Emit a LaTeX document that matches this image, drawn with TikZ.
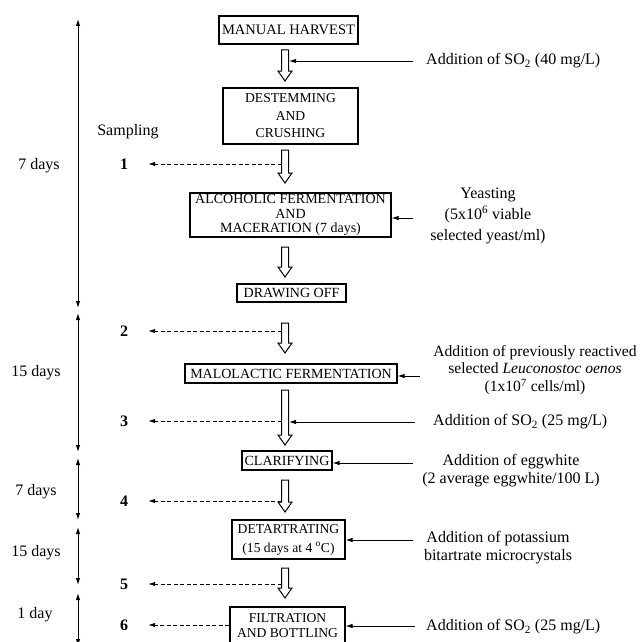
\documentclass[tikz,border=0pt]{standalone}
\usepackage{fontspec}
\setmainfont{Liberation Serif}
\usetikzlibrary{arrows.meta}
\newcommand{\hollowarrow}[3]{%
  \draw[hol] ({#1-3.5},#2) -- ({#1+3.5},#2) -- ({#1+3.5},{#3-10}) -- ({#1+7},{#3-10}) -- (#1,#3) -- ({#1-7},{#3-10}) -- ({#1-3.5},{#3-10}) -- cycle;}
\begin{document}
\begin{tikzpicture}[x=1pt,y=-1pt,
  box/.style={draw, line width=1.2pt, inner sep=0pt, align=center, font=\fontsize{14}{16}\selectfont},
  lbl/.style={inner sep=0pt, font=\fontsize{16}{18}\selectfont},
  hol/.style={draw, line width=1pt, fill=white},
  feed/.style={line width=0.9pt, -{Latex[length=7pt,width=4.5pt]}},
  samp/.style={feed, dash pattern=on 4pt off 2.5pt},
  tl/.style={line width=1pt, {Latex[length=7pt,width=4.5pt]}-{Latex[length=7pt,width=4.5pt]}}]
\useasboundingbox (0,0) rectangle (640,642);
\clip (0,0) rectangle (640,642);

% process boxes
\node[box, minimum width=139pt, minimum height=28pt, font=\fontsize{14.5}{16}\selectfont] (harvest) at (288.5,30) {MANUAL HARVEST};
\node[box, minimum width=135pt, minimum height=56pt, font=\fontsize{13.6}{17.5}\selectfont] (destem) at (290.5,116) {DESTEMMING\\AND\\CRUSHING};
\node[box, minimum width=201pt, minimum height=44pt, font=\fontsize{14}{14.5}\selectfont] (alc) at (290.5,215) {ALCOHOLIC FERMENTATION\\AND\\MACERATION (7 days)};
\node[box, minimum width=109pt, minimum height=18pt] (draw) at (291.5,293) {DRAWING OFF};
\node[box, minimum width=212pt, minimum height=19pt] (malo) at (291,373.5) {MALOLACTIC FERMENTATION};
\node[box, minimum width=90pt, minimum height=19pt] (clar) at (287,460.5) {CLARIFYING};
\node[box, minimum width=113pt, minimum height=39pt, font=\fontsize{13.6}{19}\selectfont] (detart) at (288.5,539.5) {DETARTRATING\\(15 days at 4 \textsuperscript{o}C)};
\node[box, minimum width=115pt, minimum height=38pt, font=\fontsize{13.6}{15}\selectfont] (filt) at (287.5,626) {FILTRATION\\AND BOTTLING};

% hollow flow arrows
\hollowarrow{285}{50}{81}
\hollowarrow{285}{150}{183}
\hollowarrow{285}{247}{277}
\hollowarrow{285}{323}{353}
\hollowarrow{285}{390}{445}
\hollowarrow{285}{480}{512}
\hollowarrow{285}{568}{598}

% additions (right)
\node[lbl, anchor=west] (so2a) at (426,61) {Addition of SO\textsubscript{2} (40 mg/L)};
\node[lbl, align=center, font=\fontsize{16}{21}\selectfont] (yeast) at (488,216) {Yeasting\\(5x10\textsuperscript{6} viable\\selected yeast/ml)};
\node[lbl, align=center, font=\fontsize{15.6}{17.5}\selectfont] (leuco) at (535,370) {Addition of previously reactived\\selected \textit{Leuconostoc oenos}\\(1x10\textsuperscript{7} cells/ml)};
\node[lbl, anchor=west] (so2b) at (433,422) {Addition of SO\textsubscript{2} (25 mg/L)};
\node[lbl, align=center, font=\fontsize{16}{18}\selectfont] (egg) at (511,471) {Addition of eggwhite\\(2 average eggwhite/100 L)};
\node[lbl, align=center, font=\fontsize{16}{18}\selectfont] (pot) at (498,548) {Addition of potassium\\bitartrate microcrystals};
\node[lbl, anchor=west] (so2c) at (426,627) {Addition of SO\textsubscript{2} (25 mg/L)};

\coordinate (f1) at (413,61);
\coordinate (f2) at (413,218);
\coordinate (f3) at (420,376);
\coordinate (f4) at (415,422);
\coordinate (f5) at (413,463);
\coordinate (f6) at (413,540);
\coordinate (f7) at (415,626);
\coordinate (h1) at (289,61);
\coordinate (h5) at (289,422);
\draw[feed] (f1) -- (h1);
\draw[feed] (f2) -- (f2 -| alc.east);
\draw[feed] (f3) -- (f3 -| malo.east);
\draw[feed] (f4) -- (h5);
\draw[feed] (f5) -- (f5 -| clar.east);
\draw[feed] (f6) -- (f6 -| detart.east);
\draw[feed] (f7) -- (f7 -| filt.east);

% sampling
\node[lbl] (samp) at (128,132) {Sampling};
\node[lbl] (n1) at (124,164) {\textbf{1}};
\node[lbl] (n2) at (124,331) {\textbf{2}};
\node[lbl] (n3) at (124,421) {\textbf{3}};
\node[lbl] (n4) at (124,501) {\textbf{4}};
\node[lbl] (n5) at (124,584) {\textbf{5}};
\node[lbl] (n6) at (124,625) {\textbf{6}};
\coordinate (s1) at (281.5,164);
\coordinate (s2) at (281.5,331);
\coordinate (s3) at (281.5,421);
\coordinate (s4) at (281.5,501);
\coordinate (s5) at (281.5,584);
\draw[samp, shorten >=20pt] (s1) -- (n1);
\draw[samp, shorten >=20pt] (s2) -- (n2);
\draw[samp, shorten >=20pt] (s3) -- (n3);
\draw[samp, shorten >=20pt] (s4) -- (n4);
\draw[samp, shorten >=20pt] (s5) -- (n5);
\draw[samp, shorten >=20pt] (n6 -| filt.west) -- (n6);

% time line
\coordinate (t0) at (78,19);
\coordinate (t1) at (78,308);
\coordinate (t2) at (78,313);
\coordinate (t3) at (78,452);
\coordinate (t4) at (78,458);
\coordinate (t5) at (78,520);
\coordinate (t6) at (78,527);
\coordinate (t7) at (78,585);
\coordinate (t8) at (78,593);
\coordinate (t9) at (78,646);
\draw[tl] (t0) -- (t1);
\draw[tl] (t2) -- (t3);
\draw[tl] (t4) -- (t5);
\draw[tl] (t6) -- (t7);
\draw[tl] (t8) -- (t9);
\node[lbl] (d1) at (39,166) {7 days};
\node[lbl] (d2) at (36,373) {15 days};
\node[lbl] (d3) at (36,492) {7 days};
\node[lbl] (d4) at (36,553) {15 days};
\node[lbl] (d5) at (35,615) {1 day};
\end{tikzpicture}
\end{document}
